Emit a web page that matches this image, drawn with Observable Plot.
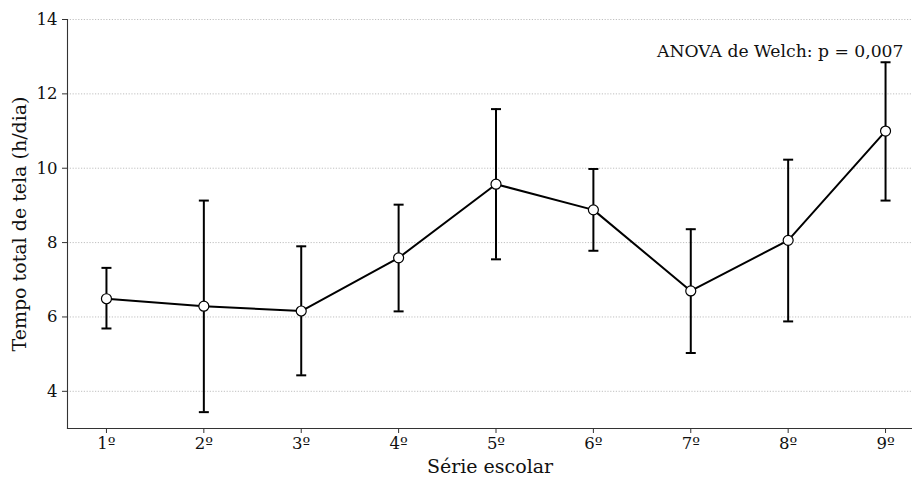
<!DOCTYPE html>
<html>
<head>
<meta charset="utf-8">
<script src="https://cdn.jsdelivr.net/npm/d3@7"></script>
<script src="https://cdn.jsdelivr.net/npm/@observablehq/plot@0.6"></script>
<style>
  html, body { margin: 0; padding: 0; background: #fff; }
  svg { font-family: "DejaVu Serif", serif; }
</style>
</head>
<body>
<div id="chart"></div>
<script>
const grades = ["1º", "2º", "3º", "4º", "5º", "6º", "7º", "8º", "9º"];
const means  = [6.49, 6.29, 6.16, 7.59, 9.57, 8.88, 6.70, 8.06, 11.0];
const lower  = [5.69, 3.44, 4.43, 6.15, 7.55, 7.78, 5.03, 5.88, 9.13];
const upper  = [7.32, 9.13, 7.90, 9.02, 11.59, 9.98, 8.36, 10.23, 12.85];
const yTicks = [4, 6, 8, 10, 12, 14];
const annotation = "ANOVA de Welch: p = 0,007";

const data = grades.map((g, i) => ({grade: g, mean: means[i], lo: lower[i], hi: upper[i]}));

const capSymbol = {
  draw(context, size) {
    context.moveTo(-5, 0);
    context.lineTo(5, 0);
  }
};

const FS = 16.5;   // tick labels
const LFS = 19;    // axis labels
const AFS = 17.2;  // annotation

const chart = Plot.plot({
  width: 912,
  height: 478,
  marginLeft: 67,
  marginRight: 0,
  marginTop: 19,
  marginBottom: 50,
  style: {fontFamily: "DejaVu Serif", fontSize: FS + "px", background: "#fff", overflow: "visible"},
  x: {type: "point", domain: grades, range: [67, 924], padding: 0.4, round: false},
  y: {domain: [3, 14]},
  marks: [
    Plot.gridY(yTicks, {stroke: "#b0b0b0", strokeOpacity: 1, strokeWidth: 0.8, strokeDasharray: "1.2,1.6"}),
    Plot.axisY(yTicks, {
      tickSize: 5, tickPadding: 5, stroke: "#333", fill: "#111", fontSize: FS, label: null
    }),
    Plot.axisY(yTicks, {
      tickSize: 0, text: null, fill: "#111", fontSize: LFS,
      label: "Tempo total de tela (h/dia)", labelAnchor: "center", labelArrow: "none", labelOffset: 55
    }),
    Plot.axisX(grades, {
      tickSize: 5, tickPadding: 4, stroke: "#333", fill: "#111", fontSize: FS, label: null
    }),
    Plot.axisX(grades, {
      tickSize: 0, text: null, fill: "#111", fontSize: LFS,
      label: "Série escolar", labelAnchor: "center", labelArrow: "none", labelOffset: 44
    }),
    Plot.frame({anchor: "left", stroke: "#333", strokeWidth: 1.1}),
    Plot.frame({anchor: "bottom", stroke: "#333", strokeWidth: 1.1}),
    Plot.ruleX(data, {x: "grade", y1: "lo", y2: "hi", stroke: "#000", strokeWidth: 2}),
    Plot.dot(data, {x: "grade", y: "lo", symbol: capSymbol, stroke: "#000", strokeWidth: 2, r: 5}),
    Plot.dot(data, {x: "grade", y: "hi", symbol: capSymbol, stroke: "#000", strokeWidth: 2, r: 5}),
    Plot.line(data, {x: "grade", y: "mean", stroke: "#000", strokeWidth: 2}),
    Plot.dot(data, {x: "grade", y: "mean", r: 5, fill: "#fff", stroke: "#000", strokeWidth: 1.2}),
    Plot.text([annotation], {frameAnchor: "top-right", dx: -9, dy: 25, text: d => d, fill: "#111", fontSize: AFS, textAnchor: "end"})
  ]
});
document.getElementById("chart").appendChild(chart);
</script>
</body>
</html>
